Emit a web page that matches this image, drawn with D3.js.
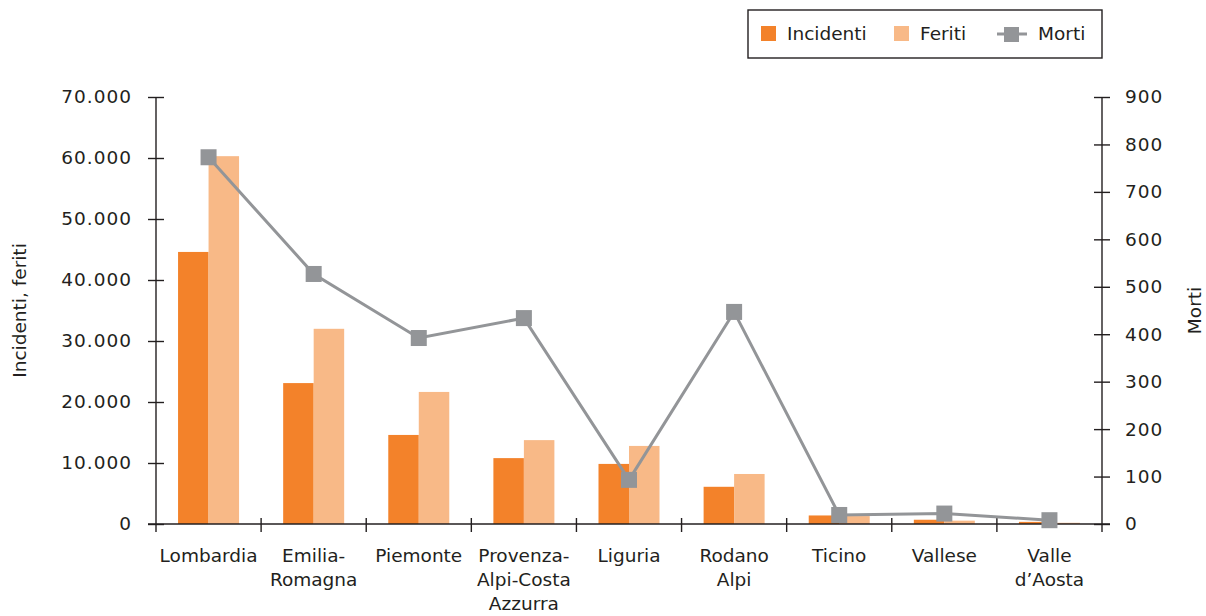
<!DOCTYPE html>
<html>
<head>
<meta charset="utf-8">
<script src="https://cdn.jsdelivr.net/npm/d3@7"></script>
<style>
  html, body { margin: 0; padding: 0; background: #fff; }
  svg { display: block; }
  text { font-family: "DejaVu Sans", sans-serif; fill: #231f20; }
</style>
</head>
<body>
<svg id="chart" width="1206" height="616"></svg>
<script>
// Regions and their road-accident figures
const regions = [
  ["Lombardia"],
  ["Emilia-", "Romagna"],
  ["Piemonte"],
  ["Provenza-", "Alpi-Costa", "Azzurra"],
  ["Liguria"],
  ["Rodano", "Alpi"],
  ["Ticino"],
  ["Vallese"],
  ["Valle", "d\u2019Aosta"]
];
const incidenti = [44600, 23100, 14600, 10800, 9850, 6100, 1400, 700, 350];
const feriti    = [60300, 32000, 21650, 13750, 12800, 8200, 1300, 550, 200];
const morti     = [773, 527, 392, 434, 93, 447, 19, 22, 8];
const leftTicks  = [0, 10000, 20000, 30000, 40000, 50000, 60000, 70000];
const rightTicks = [0, 100, 200, 300, 400, 500, 600, 700, 800, 900];

const colors = { incidenti: "#f3822a", feriti: "#f8b987", morti: "#939598" };
const ink = "#231f20";
const fs = 18.5;

const svg = d3.select("#chart");
const plotL = 156, plotR = 1102, plotT = 97, plotB = 524;

const keys = regions.map(r => r.join(" "));
const x = d3.scaleBand().domain(keys).range([plotL, plotR]).padding(0);
const yL = d3.scaleLinear().domain([0, 70000]).range([plotB, plotT]);
const yR = d3.scaleLinear().domain([0, 900]).range([plotB, plotT]);
const barW = 30.5;
const cx = i => x(keys[i]) + x.bandwidth() / 2;

const it = d3.formatLocale({ decimal: ",", thousands: ".", grouping: [3], currency: ["€", ""] });
const fmt = it.format(",d");

// Bars
const g = svg.append("g");
g.selectAll("rect.inc").data(incidenti).join("rect").attr("class", "inc")
  .attr("x", (d, i) => cx(i) - barW)
  .attr("y", d => yL(d)).attr("width", barW)
  .attr("height", d => plotB - yL(d)).attr("fill", colors.incidenti);
g.selectAll("rect.fer").data(feriti).join("rect").attr("class", "fer")
  .attr("x", (d, i) => cx(i))
  .attr("y", d => yL(d)).attr("width", barW)
  .attr("height", d => plotB - yL(d)).attr("fill", colors.feriti);

// Left axis
const axL = svg.append("g").attr("transform", `translate(${plotL},0)`)
  .call(d3.axisLeft(yL).tickValues(leftTicks).tickFormat(fmt).tickSize(8).tickPadding(16));
axL.select(".domain").remove();
axL.selectAll(".tick line").attr("x1", -8).attr("x2", 8).attr("stroke", ink).attr("stroke-width", 1.4);
axL.selectAll(".tick text").attr("font-size", fs).attr("letter-spacing", 1)
  .attr("font-family", "DejaVu Sans").attr("fill", ink);
svg.append("line").attr("x1", plotL).attr("x2", plotL).attr("y1", plotT).attr("y2", plotB + 8)
  .attr("stroke", ink).attr("stroke-width", 1.4);

// Right axis
const axR = svg.append("g").attr("transform", `translate(${plotR},0)`)
  .call(d3.axisRight(yR).tickValues(rightTicks).tickSize(8).tickPadding(15));
axR.select(".domain").remove();
axR.selectAll(".tick line").attr("x1", -8).attr("x2", 8).attr("stroke", ink).attr("stroke-width", 1.4);
axR.selectAll(".tick text").attr("font-size", fs).attr("letter-spacing", 1)
  .attr("font-family", "DejaVu Sans").attr("fill", ink);
svg.append("line").attr("x1", plotR).attr("x2", plotR).attr("y1", plotT).attr("y2", plotB + 8)
  .attr("stroke", ink).attr("stroke-width", 1.4);

// Category axis
svg.append("line").attr("x1", plotL - 8).attr("x2", plotR + 8).attr("y1", plotB).attr("y2", plotB)
  .attr("stroke", ink).attr("stroke-width", 1.4);
svg.selectAll("line.sep").data(keys.slice(1)).join("line").attr("class", "sep")
  .attr("x1", d => x(d)).attr("x2", d => x(d))
  .attr("y1", plotB - 6).attr("y2", plotB + 8)
  .attr("stroke", ink).attr("stroke-width", 1.4);
const lab = svg.append("g");
regions.forEach((lines, i) => {
  const t = lab.append("text").attr("text-anchor", "middle").attr("font-size", fs)
    .attr("x", cx(i)).attr("y", 562);
  lines.forEach((s, j) => t.append("tspan")
    .attr("x", cx(i)).attr("dy", j === 0 ? 0 : 24).text(s));
});

// Deaths line on the right scale
const line = d3.line().x((d, i) => cx(i)).y(d => yR(d));
svg.append("path").datum(morti).attr("d", line).attr("fill", "none")
  .attr("stroke", colors.morti).attr("stroke-width", 3);
svg.selectAll("rect.m").data(morti).join("rect").attr("class", "m")
  .attr("x", (d, i) => cx(i) - 8).attr("y", d => yR(d) - 8)
  .attr("width", 16).attr("height", 16).attr("fill", colors.morti);

// Axis titles
svg.append("text").attr("transform", `translate(26,${(plotT + plotB) / 2}) rotate(-90)`)
  .attr("text-anchor", "middle").attr("font-size", fs).text("Incidenti, feriti");
svg.append("text").attr("transform", `translate(1201,${(plotT + plotB) / 2}) rotate(-90)`)
  .attr("text-anchor", "middle").attr("font-size", fs).text("Morti");

// Legend
const lg = svg.append("g");
lg.append("rect").attr("x", 748).attr("y", 10).attr("width", 354).attr("height", 48)
  .attr("fill", "#fff").attr("stroke", ink).attr("stroke-width", 1.4);
lg.append("rect").attr("x", 761).attr("y", 26).attr("width", 15).attr("height", 15).attr("fill", colors.incidenti);
lg.append("text").attr("x", 787).attr("y", 40).attr("font-size", fs).text("Incidenti");
lg.append("rect").attr("x", 894).attr("y", 26).attr("width", 15).attr("height", 15).attr("fill", colors.feriti);
lg.append("text").attr("x", 920).attr("y", 40).attr("font-size", fs).text("Feriti");
lg.append("line").attr("x1", 997).attr("x2", 1027).attr("y1", 34).attr("y2", 34)
  .attr("stroke", colors.morti).attr("stroke-width", 3);
lg.append("rect").attr("x", 1004).attr("y", 27).attr("width", 15).attr("height", 15).attr("fill", colors.morti);
lg.append("text").attr("x", 1038).attr("y", 40).attr("font-size", fs).text("Morti");
</script>
</body>
</html>
